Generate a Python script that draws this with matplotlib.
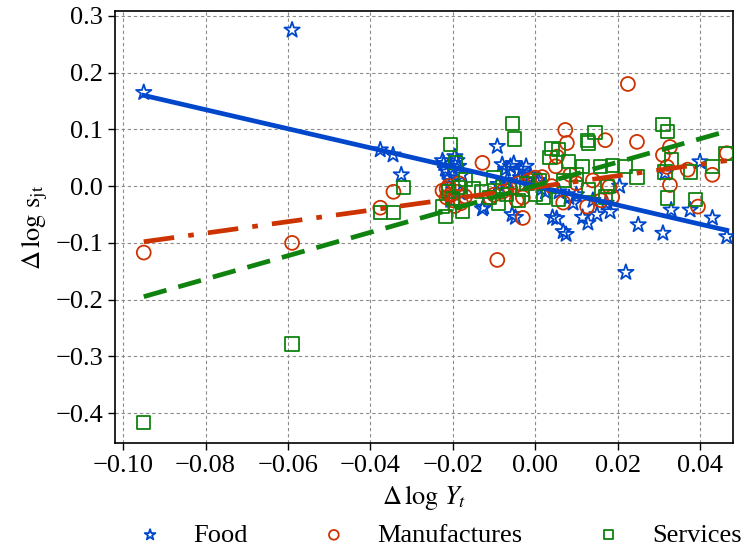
import matplotlib
matplotlib.use("Agg")
import matplotlib.pyplot as plt
import numpy as np

# ---------------- data ----------------
categories = ["Food", "Manufactures", "Services"]

food_points = [
    (-0.095, 0.165), (-0.059, 0.275), (-0.0376, 0.064), (-0.0345, 0.055), (-0.0325, 0.020),
    (-0.0225, 0.045), (-0.0222, 0.040), (-0.0218, 0.030), (-0.0214, 0.025), (-0.0210, 0.015),
    (-0.0205, 0.008), (-0.0195, 0.052), (-0.0190, 0.045), (-0.0186, 0.035), (-0.0178, 0.020),
    (-0.0182, -0.012), (-0.0205, -0.025), (-0.0128, -0.040), (-0.0125, -0.037), (-0.0092, 0.070),
    (-0.0090, 0.003), (-0.0080, 0.038), (-0.0072, 0.030), (-0.0060, 0.035), (-0.0052, 0.040),
    (-0.0042, 0.025), (-0.0032, 0.030), (-0.0022, 0.035), (-0.0012, 0.020), (-0.0056, -0.050),
    (-0.0048, -0.055), (-0.0068, 0.010), (-0.0036, 0.015), (0.0008, 0.010), (0.0015, -0.005),
    (0.0042, -0.055), (0.0052, -0.057), (0.0068, -0.080), (0.0075, -0.085), (0.0058, -0.010),
    (0.0082, -0.020), (0.0092, -0.030), (0.0115, -0.055), (0.0128, -0.065), (0.0150, -0.050),
    (0.0172, -0.030), (0.0182, -0.045), (0.0205, 0.000), (0.0220, -0.152), (0.0250, -0.068),
    (0.0310, -0.083), (0.0315, 0.023), (0.0330, -0.042), (0.0376, -0.042), (0.0400, 0.043),
    (0.0430, -0.056), (0.0465, -0.089), (0.0005, 0.005), (0.0025, -0.010), (0.0100, -0.015),
    (0.0140, -0.025),
]

manuf_points = [
    (-0.095, -0.117), (-0.059, -0.100), (-0.0376, -0.038), (-0.0344, -0.010), (-0.0215, -0.005),
    (-0.0210, 0.000), (-0.0205, -0.015), (-0.0200, -0.025), (-0.0190, -0.010), (-0.0185, 0.005),
    (-0.0180, -0.030), (-0.0215, -0.020), (-0.0195, -0.035), (-0.0170, -0.018), (-0.0225, -0.008),
    (-0.0128, 0.041), (-0.0092, -0.130), (-0.0100, -0.015), (-0.0080, -0.010), (-0.0060, -0.005),
    (-0.0040, 0.005), (-0.0030, -0.020), (-0.0015, 0.010), (-0.0030, -0.056), (-0.0045, -0.025),
    (-0.0110, -0.020), (0.0000, 0.015), (0.0017, 0.016), (0.0040, 0.000), (0.0053, 0.052),
    (0.0073, 0.099), (0.0077, 0.076), (0.0068, -0.029), (0.0126, -0.036), (0.0170, 0.081),
    (0.0187, -0.019), (0.0180, -0.001), (0.0100, 0.005), (0.0140, 0.010), (0.0225, 0.180),
    (0.0247, 0.078), (0.0310, 0.055), (0.0327, 0.069), (0.0320, 0.034), (0.0327, 0.002),
    (0.0370, 0.029), (0.0395, -0.036), (0.0430, 0.020), (0.0465, 0.058), (0.0085, 0.020),
    (0.0160, -0.025), (0.0050, 0.035),
]

serv_points = [
    (-0.095, -0.417), (-0.059, -0.278), (-0.0376, -0.047), (-0.0344, -0.047), (-0.0320, -0.003),
    (-0.0206, 0.073), (-0.0194, 0.041), (-0.0225, -0.036), (-0.0218, -0.054), (-0.0177, -0.045),
    (-0.0170, 0.011), (-0.0187, -0.003), (-0.0210, -0.010), (-0.0200, -0.022), (-0.0130, -0.010),
    (-0.0110, -0.020), (-0.0100, 0.015), (-0.0090, -0.030), (-0.0070, -0.015), (-0.0056, 0.111),
    (-0.0051, 0.083), (-0.0040, -0.025), (-0.0030, -0.005), (-0.0020, 0.005), (0.0000, -0.015),
    (0.0010, 0.010), (0.0041, 0.067), (0.0056, 0.064), (0.0036, 0.050), (0.0080, 0.043),
    (0.0126, 0.081), (0.0129, 0.076), (0.0145, 0.094), (0.0114, 0.034), (0.0158, 0.034),
    (0.0187, 0.037), (0.0175, -0.001), (0.0170, -0.019), (0.0129, -0.006), (0.0056, -0.024),
    (0.0020, -0.019), (0.0218, 0.034), (0.0247, 0.016), (0.0310, 0.108), (0.0322, 0.096),
    (0.0315, 0.025), (0.0322, -0.021), (0.0330, 0.046), (0.0376, 0.025), (0.0430, 0.034),
    (0.0463, 0.058), (0.0390, -0.024), (-0.0080, 0.000), (-0.0150, -0.005), (0.0070, 0.010),
    (0.0100, 0.020),
]

# fitted lines (slope, intercept)
fit_slopes = [-1.68, 1.01, 2.06]
fit_intercepts = [0.0003, -0.002, 0.001]
fit_x_range = (-0.095, 0.0465)

x_ticks = [-0.10, -0.08, -0.06, -0.04, -0.02, 0.00, 0.02, 0.04]
y_ticks = [-0.4, -0.3, -0.2, -0.1, 0.0, 0.1, 0.2, 0.3]

# ---------------- style ----------------
plt.rcParams['font.family'] = ['Liberation Serif', 'DejaVu Serif']
plt.rcParams['mathtext.fontset'] = 'stix'
plt.rcParams['axes.unicode_minus'] = True

colors = ["#0047cc", "#cc3300", "#0f820f"]
markers = ["*", "o", "s"]
sizes = [135, 100, 90]

fig = plt.figure(figsize=(7.51, 5.51), dpi=100)
ax = fig.add_axes([0.153, 0.1955, 0.823, 0.785])

all_points = [food_points, manuf_points, serv_points]
handles = []
for pts, c, m, s, lab in zip(all_points, colors, markers, sizes, categories):
    arr = np.array(pts)
    h = ax.scatter(arr[:, 0], arr[:, 1], marker=m, s=s, facecolors='none',
                   edgecolors=c, linewidths=1.3, label=lab, zorder=3)
    handles.append(h)

xs = np.array(fit_x_range)
styles = [dict(linestyle='-'), dict(dashes=[6.5, 3.0, 1.2, 3.0]), dict(dashes=[5.0, 2.6])]
for sl, ic, c, st in zip(fit_slopes, fit_intercepts, colors, styles):
    ax.plot(xs, sl * xs + ic, color=c, linewidth=3.4, zorder=4, **st)

ax.set_xlim(-0.102, 0.048)
ax.set_ylim(-0.453, 0.309)
ax.set_xticks(x_ticks)
ax.set_yticks(y_ticks)
ax.set_xticklabels([f"{v:.2f}".replace("-", "\u2212") for v in x_ticks])
ax.set_yticklabels([f"{v:.1f}".replace("-", "\u2212") for v in y_ticks])
ax.tick_params(axis='both', labelsize=19, length=5, width=1.0, direction='out')
ax.grid(True, color='#8c8c8c', linestyle=(0, (3, 2.5)), linewidth=0.8)
ax.set_axisbelow(True)
for sp in ax.spines.values():
    sp.set_linewidth(1.2)

ax.set_xlabel(r"$\Delta\,\log\,Y_t$", fontsize=19, labelpad=4)
ax.set_ylabel(r"$\Delta\,\log\,\mathrm{s}_{\mathrm{jt}}$", fontsize=19, labelpad=4)

fig.legend(handles=handles, labels=categories, loc='center',
           bbox_to_anchor=(0.576, 0.029), ncol=3, frameon=False, fontsize=19,
           handletextpad=0.65, columnspacing=2.25, markerscale=0.7,
           borderaxespad=0.0)

fig.savefig("out.png", dpi=100)
